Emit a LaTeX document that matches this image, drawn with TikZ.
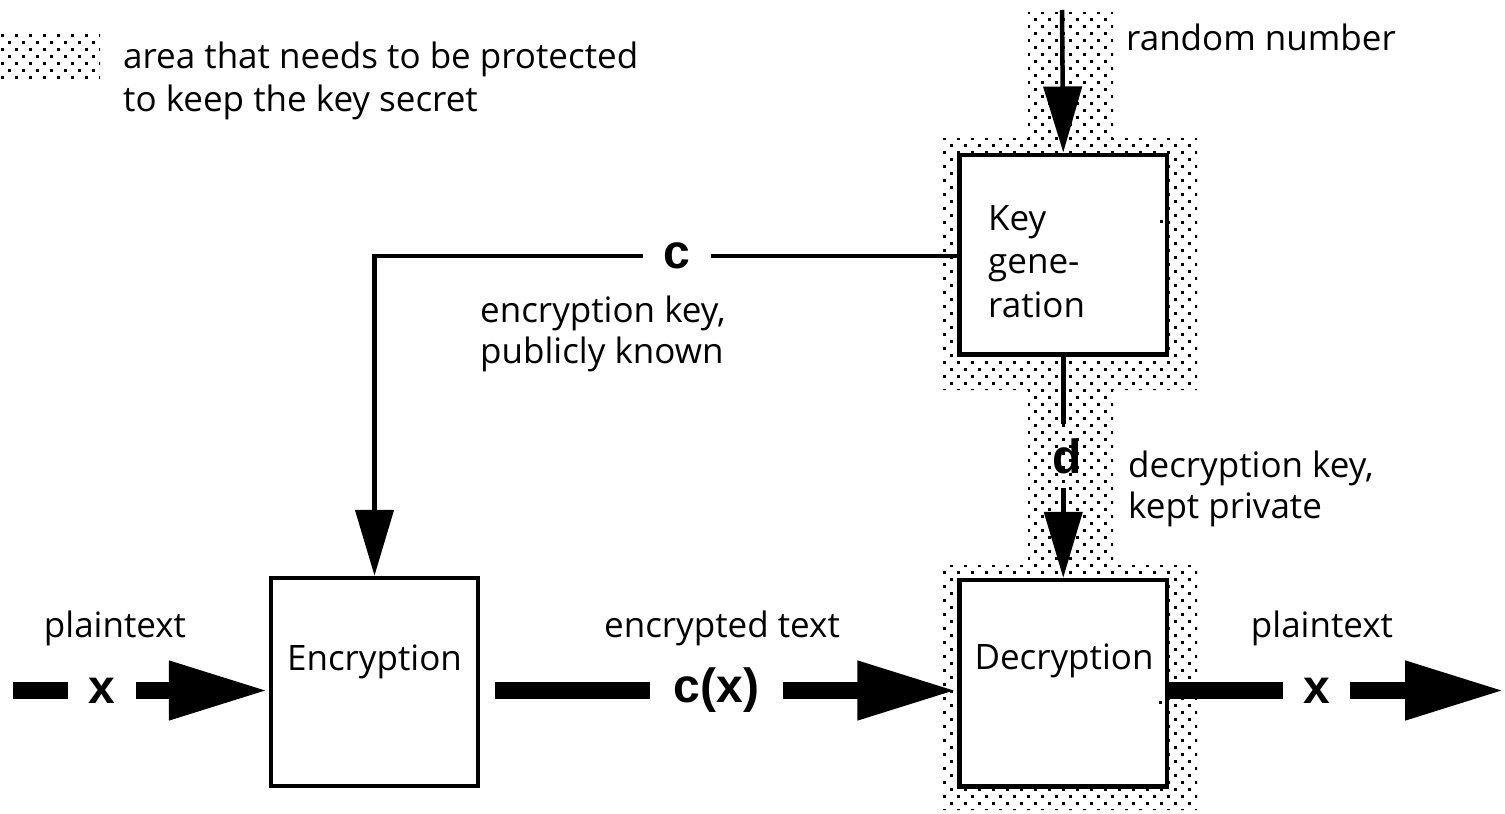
\documentclass[tikz,border=0pt]{standalone}
\usepackage{fontspec}
\setmainfont{Open Sans}
\newfontfamily\labfont{Liberation Sans}
\usetikzlibrary{arrows.meta}
\begin{document}
\begin{tikzpicture}[x=1pt,y=-1pt,
  txt/.style={inner sep=0pt, font=\fontsize{35pt}{43pt}\selectfont},
  lab/.style={inner sep=0pt, font=\labfont\bfseries\fontsize{48pt}{50pt}\selectfont},
  box/.style={draw, line width=4.5pt, fill=white, inner sep=0pt},
  thin/.style={line width=4.5pt},
  thinarrow/.style={thin, -{Triangle[length=66pt,width=38pt]}},
  bar/.style={line width=17pt},
  bararrow/.style={bar, -{Triangle[length=100pt,width=55pt]}},
  dotsq/.style={fill=black},
]
\useasboundingbox (0,0) rectangle (1505,814);
% protected area (dotted)
\begin{scope}
  \clip (943,138) -- (1028,138) -- (1028,12) -- (1113,12) -- (1113,138)
    -- (1197,138) -- (1197,390) -- (1113,390) -- (1113,565) -- (1197,565)
    -- (1197,810) -- (943,810) -- (943,565) -- (1028,565) -- (1028,390)
    -- (943,390) -- cycle;
  \foreach \i in {0,...,18} {
    \foreach \j in {0,...,57} {
      \fill[dotsq] ({943+14*\i},{11+14*\j}) rectangle ++(3,3);
      \fill[dotsq] ({950+14*\i},{4+14*\j}) rectangle ++(3,3);
    }
  }
\end{scope}
% legend swatch
\begin{scope}
  \clip (0,33) rectangle (100,81);
  \foreach \i in {0,...,7} {
    \foreach \j in {0,...,4} {
      \fill[dotsq] ({1+14*\i},{34+14*\j}) rectangle ++(3,3);
      \fill[dotsq] ({8+14*\i},{41+14*\j}) rectangle ++(3,3);
    }
  }
\end{scope}
\node[txt, anchor=base west] (leg1) at (123,68) {area that needs to be protected};
\node[txt, anchor=base west] (leg2) at (123,111) {to keep the key secret};

% boxes
\node[box, minimum width=207pt, minimum height=208pt] (enc) at (374.5,682) {};
\node[box, minimum width=207.5pt, minimum height=206.5pt] (dec) at (1063.25,683.25) {};
\node[box, minimum width=207.5pt, minimum height=199.5pt] (kg) at (1063.25,254.5) {};
\node[txt, anchor=base] (enct) at (374.5,670) {Encryption};
\node[txt, anchor=base] (dect) at (1064,669) {Decryption};
\node[txt, anchor=base west] (kg1) at (988,230) {Key};
\node[txt, anchor=base west] (kg2) at (988,273.5) {gene-};
\node[txt, anchor=base west] (kg3) at (988,317) {ration};
\fill (1160,220) rectangle ++(3,3);
\fill (1159,701) rectangle ++(3,3);

% random number
\coordinate (rnd) at (1062,10);
\draw[thinarrow] (rnd) -- (kg.north);
\node[txt, anchor=base west] (rndt) at (1126,50) {random number};

% encryption key c
\node[lab, minimum width=67pt] (clab) at (677,256) {c};
\draw[thin] (kg.west |- clab.east) -- (clab.east);
\draw[thinarrow] (clab.west) -| (enc.north);
\node[txt, anchor=base west] (ek1) at (480,322) {encryption key,};
\node[txt, anchor=base west] (ek2) at (480,363) {publicly known};

% decryption key d
\node[lab, minimum height=63pt] (dlab) at (1067.5,456) {d};
\draw[thin] (kg.south) -- (kg.south |- dlab.north);
\draw[thinarrow] (kg.south |- dlab.south) -- (dec.north);
\node[txt, anchor=base west] (dk1) at (1128,477) {decryption key,};
\node[txt, anchor=base west] (dk2) at (1128,518) {kept private};

% plaintext in
\coordinate (pin) at (13,690.5);
\node[lab, minimum width=68pt] (x1) at (102,690.5) {x};
\draw[bar] (pin) -- (x1.west);
\draw[bararrow] (x1.east) -- (x1.east -| enc.west);
\node[txt, anchor=base] (pt1) at (115,637) {plaintext};

% encrypted text
\coordinate (cs) at (495,690.5);
\node[lab, minimum width=133pt] (cx) at (716.5,690.5) {c(x)};
\draw[bar] (cs) -- (cx.west);
\draw[bararrow] (cx.east) -- (cx.east -| dec.west);
\node[txt, anchor=base] (et) at (722,637) {encrypted text};

% plaintext out
\coordinate (pout) at (1505,690.5);
\node[lab, minimum width=67pt] (x2) at (1316.5,690.5) {x};
\draw[bar] (x2.west -| dec.east) -- (x2.west);
\draw[bararrow] (x2.east) -- (pout);
\node[txt, anchor=base] (pt2) at (1322,637) {plaintext};
\end{tikzpicture}
\end{document}
